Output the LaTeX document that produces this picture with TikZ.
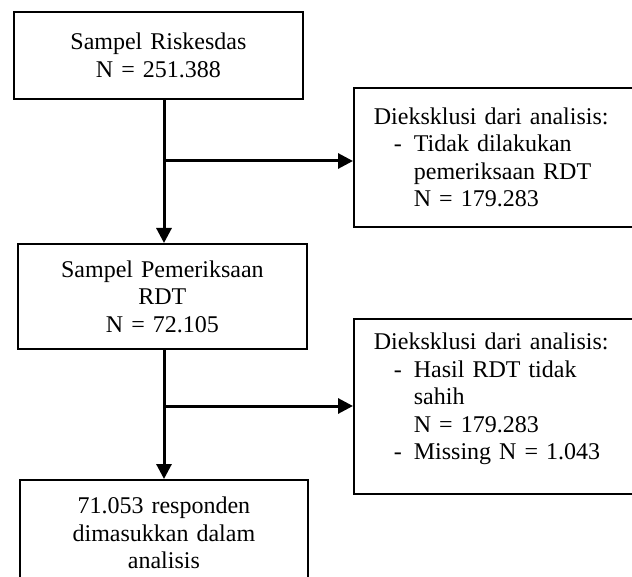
\documentclass[tikz,border=0pt]{standalone}
\usepackage{fontspec}
\setmainfont{Liberation Serif}
\usetikzlibrary{arrows.meta}

\begin{document}
\begin{tikzpicture}[x=0.5pt,y=-0.5pt,
  box/.style={draw,line width=0.9pt,inner sep=0pt,align=center,
    font=\fontsize{12}{13.75}\selectfont,anchor=north west},
  sidebox/.style={box,align=left,inner xsep=10pt,text width=133pt},
  link/.style={line width=1.5pt,-{Triangle[length=7.5pt,width=7.5pt]}}]
\useasboundingbox (0,0) rectangle (632,577);
\clip (0,0) rectangle (632,577);
\node[box,text width=144.5pt,minimum height=43.5pt] (b1) at (13,11)
  {Sampel Riskesdas\\N = 251.388};
\node[box,text width=144.5pt,minimum height=52.5pt] (b2) at (17,243)
  {Sampel Pemeriksaan\\RDT\\N = 72.105};
\node[box,text width=144pt,minimum height=53pt] (b4) at (19,479)
  {71.053 responden\\dimasukkan dalam\\analisis};
\node[sidebox,minimum height=69.5pt] (b3) at (353,87)
  {Dieksklusi dari analisis:\\
   \hspace*{10pt}\makebox[10pt][l]{-}Tidak dilakukan\\
   \hspace*{20pt}pemeriksaan RDT\\
   \hspace*{20pt}N = 179.283};
\node[sidebox,minimum height=87.5pt] (b5) at (353,318)
  {Dieksklusi dari analisis:\\
   \hspace*{10pt}\makebox[10pt][l]{-}Hasil RDT tidak\\
   \hspace*{20pt}sahih\\
   \hspace*{20pt}N = 179.283\\
   \hspace*{10pt}\makebox[10pt][l]{-}Missing N = 1.043\rule[-10pt]{0pt}{0pt}};
\coordinate (j1) at (164,161);
\coordinate (j2) at (164,406);
\draw[link] (j1 |- b1.south) -- (j1 |- b2.north);
\draw[link] (j1) -- (j1 -| b3.west);
\draw[link] (j2 |- b2.south) -- (j2 |- b4.north);
\draw[link] (j2) -- (j2 -| b5.west);
\end{tikzpicture}
\end{document}
